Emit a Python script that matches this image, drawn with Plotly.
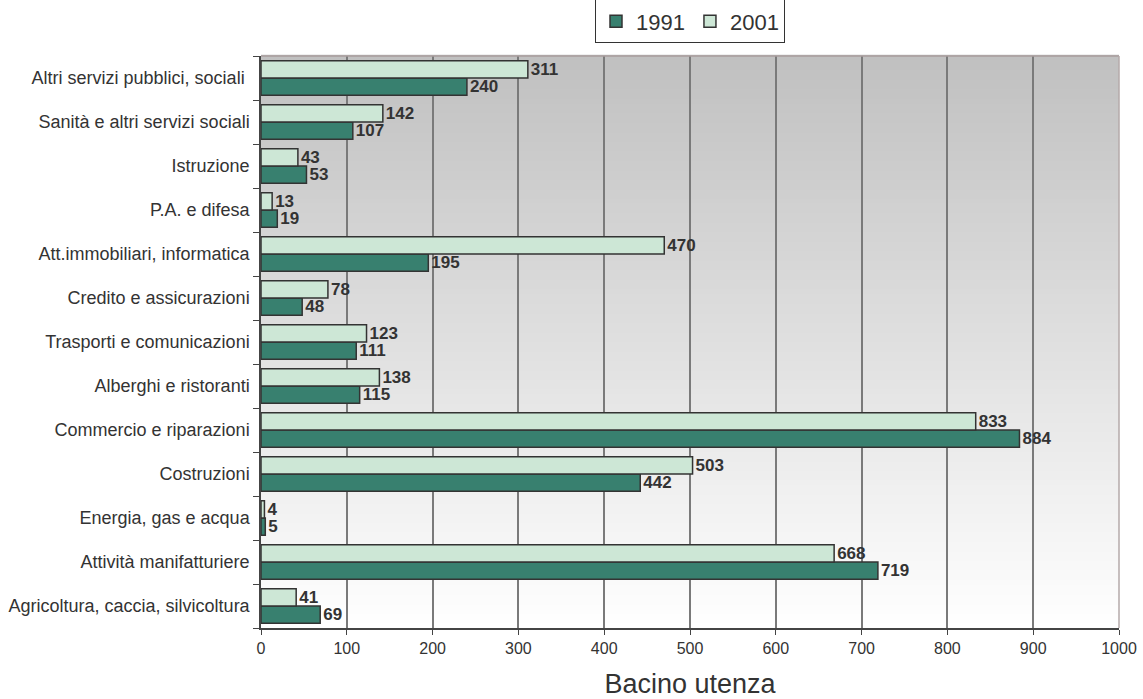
import plotly.graph_objects as go

categories = [
    "Agricoltura, caccia, silvicoltura",
    "Attività manifatturiere",
    "Energia, gas e acqua",
    "Costruzioni",
    "Commercio e riparazioni",
    "Alberghi e ristoranti",
    "Trasporti e comunicazioni",
    "Credito e assicurazioni",
    "Att.immobiliari, informatica",
    "P.A. e difesa",
    "Istruzione",
    "Sanità e altri servizi sociali",
    "Altri servizi pubblici, sociali ",
]
values_1991 = [69, 719, 5, 442, 884, 115, 111, 48, 195, 19, 53, 107, 240]
values_2001 = [41, 668, 4, 503, 833, 138, 123, 78, 470, 13, 43, 142, 311]
x_ticks = list(range(0, 1001, 100))

FONT = "Liberation Sans, Arial, sans-serif"
DARK = "#38806f"
LIGHT = "#cde7d6"

fig = go.Figure()
fig.add_trace(go.Bar(
    y=categories, x=values_1991, name="1991", orientation="h",
    marker=dict(color=DARK, line=dict(color="#333333", width=1.5)),
    text=[str(v) for v in values_1991], textposition="outside",
    textfont=dict(family=FONT, size=17, color="#333333", weight="bold"),
    constraintext="none", cliponaxis=False,
))
fig.add_trace(go.Bar(
    y=categories, x=values_2001, name="2001", orientation="h",
    marker=dict(color=LIGHT, line=dict(color="#333333", width=1.5)),
    text=[str(v) for v in values_2001], textposition="outside",
    textfont=dict(family=FONT, size=17, color="#333333", weight="bold"),
    constraintext="none", cliponaxis=False,
))

# vertical gradient background: gray at top to white at bottom
shapes = []
n = 120
for i in range(n):
    y0 = i / n
    y1 = (i + 1) / n
    t = (i + 0.5) / n  # 0 bottom, 1 top
    g = int(round(255 - (255 - 192) * t))
    shapes.append(dict(type="rect", xref="paper", yref="paper",
                       x0=0, x1=1, y0=y0, y1=y1 + 0.002,
                       fillcolor=f"rgb({g},{g},{g})", line=dict(width=0),
                       layer="below"))
# top and right border
shapes.append(dict(type="line", xref="paper", yref="paper", x0=0, x1=1, y0=1, y1=1,
                   line=dict(color="#a89c9c", width=1.5), layer="above"))
shapes.append(dict(type="line", xref="paper", yref="paper", x0=1, x1=1, y0=0, y1=1,
                   line=dict(color="#b4aaaa", width=1.5), layer="above"))

fig.update_layout(
    width=1143, height=699,
    margin=dict(l=261, r=24, t=56, b=71, autoexpand=False),
    paper_bgcolor="white", plot_bgcolor="rgba(0,0,0,0)",
    barmode="group", bargap=0.22, bargroupgap=0.0,
    font=dict(family=FONT, color="#333333"),
    shapes=shapes,
    showlegend=True,
    legend=dict(orientation="h", x=0.5, xanchor="center", y=1.022, yanchor="bottom",
                font=dict(family=FONT, size=22, color="#333333"),
                bordercolor="#333333", borderwidth=1, bgcolor="white",
                itemwidth=30, traceorder="normal", tracegroupgap=0),
    xaxis=dict(range=[0, 1000], tickvals=x_ticks, ticktext=[str(v) for v in x_ticks],
               automargin=False,
               showgrid=True, gridcolor="#7a7a7a", gridwidth=1.5,
               showline=True, linecolor="#444444", linewidth=1.5,
               ticks="outside", ticklen=5, tickcolor="#444444",
               tickfont=dict(family=FONT, size=16, color="#333333"),
               zeroline=False,
               title=dict(text="Bacino utenza", font=dict(family=FONT, size=27, color="#333333"),
                          standoff=19)),
    yaxis=dict(categoryorder="array", categoryarray=categories, automargin=False,
               showgrid=False, showline=True, linecolor="#444444", linewidth=1.5,
               ticks="outside", ticklen=6, tickcolor="#444444", tickson="boundaries",
               tickfont=dict(family=FONT, size=18, color="#333333"),
               ticklabelstandoff=6),
)

fig.write_html("out.html")
